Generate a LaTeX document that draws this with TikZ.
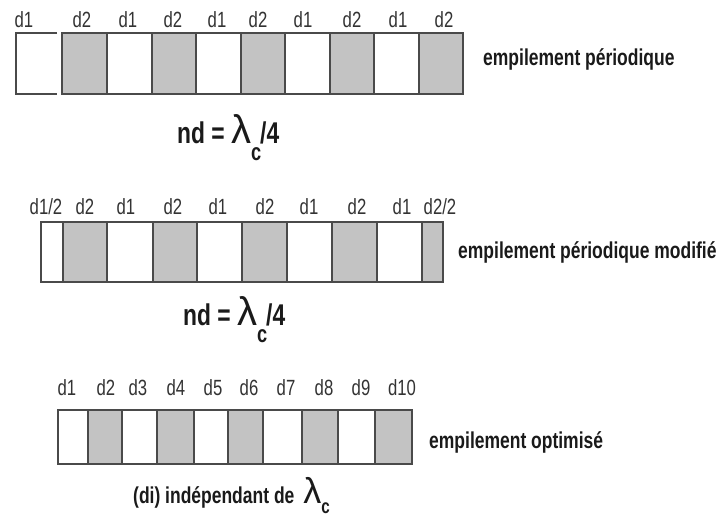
\documentclass[tikz,border=0pt]{standalone}
\usepackage{fontspec}
\setmainfont{Liberation Sans}
\newfontfamily\narrowfont[FakeStretch=0.76]{Liberation Sans}
\newfontfamily\lamfamily{Liberation Sans}
\definecolor{layergray}{HTML}{C3C3C3}
\definecolor{edgegray}{HTML}{4A4A4A}
\definecolor{labelgray}{HTML}{333333}
\definecolor{textblack}{HTML}{1A1A1A}
\newcommand{\lamsym}[1]{{\lamfamily\mdseries\fontsize{#1}{#1}\selectfont λ}}
\tikzset{
  layer/.style={draw=edgegray, line width=1.7pt},
  thick/.style={fill=layergray},
  thin/.style={fill=white},
  dlabel/.style={anchor=base, inner sep=0pt, text=labelgray,
    font=\narrowfont\fontsize{22}{22}\selectfont},
  caption/.style={anchor=base west, inner sep=0pt, text=textblack,
    font=\narrowfont\bfseries\fontsize{23}{23}\selectfont},
  eqn/.style={anchor=base west, inner sep=0pt, text=textblack,
    font=\narrowfont\bfseries\fontsize{30}{30}\selectfont}
}
\begin{document}
\begin{tikzpicture}[x=1pt,y=-1pt]
\useasboundingbox (0,0) rectangle (720,520);

% --- periodic stack: first layer drawn open on its right side
\fill[white] (16,33) rectangle (57,94);
\draw[layer] (57,33) -- (16,33) -- (16,94) -- (57,94);
\foreach \l/\r/\f in {62/107/thick,107/152/thin,152/196/thick,196/241/thin,
  241/285/thick,285/330/thin,330/374/thick,374/419/thin,419/463/thick}
  \draw[layer,\f] (\l,33) rectangle (\r,94);
\foreach \x/\t [count=\i] in {24/d1,82/d2,128/d1,173/d2,217/d1,258/d2,303/d1,352/d2,398/d1,444/d2}
  \node[dlabel] (pa\i) at (\x,27) {\t};
\node[caption] (cap1) at (483,65) {empilement périodique};
\node[eqn] (eq1) at (177,143) {nd = \lamsym{40}\raisebox{-17pt}{\fontsize{24}{24}\selectfont c}\kern-1pt/4};

% --- modified periodic stack (half layers at both ends)
\foreach \l/\r/\f in {41/63/thin,63/107/thick,107/153/thin,153/197/thick,197/242/thin,
  242/287/thick,287/332/thin,332/377/thick,377/422/thin,422/443/thick}
  \draw[layer,\f] (\l,222) rectangle (\r,282);
\foreach \x/\t [count=\i] in {46/d1\slash 2,85/d2,126/d1,173/d2,218/d1,265/d2,309/d1,357/d2,402/d1,440/d2\slash 2}
  \node[dlabel] (pb\i) at (\x,214) {\t};
\node[caption] (cap2) at (458,258) {empilement périodique modifié};
\node[eqn] (eq2) at (183,325) {nd = \lamsym{40}\raisebox{-17pt}{\fontsize{24}{24}\selectfont c}\kern-1pt/4};

% --- optimised stack (free thicknesses)
\foreach \l/\r/\f in {58/88/thin,88/122/thick,122/157/thin,157/194/thick,194/228/thin,
  228/263/thick,263/302/thin,302/338/thick,338/375/thin,375/412/thick}
  \draw[layer,\f] (\l,410) rectangle (\r,464);
\foreach \x/\t [count=\i] in {67/d1,106/d2,138/d3,176/d4,213/d5,249/d6,286/d7,324/d8,361/d9,402/d10}
  \node[dlabel] (pc\i) at (\x,395) {\t};
\node[caption] (cap3) at (429,448) {empilement optimisé};
\node[caption] (cap4) at (133,503) {(di) indépendant de\hspace{9pt}\lamsym{36}\raisebox{-10pt}{\fontsize{20}{20}\selectfont c}};
\end{tikzpicture}
\end{document}
